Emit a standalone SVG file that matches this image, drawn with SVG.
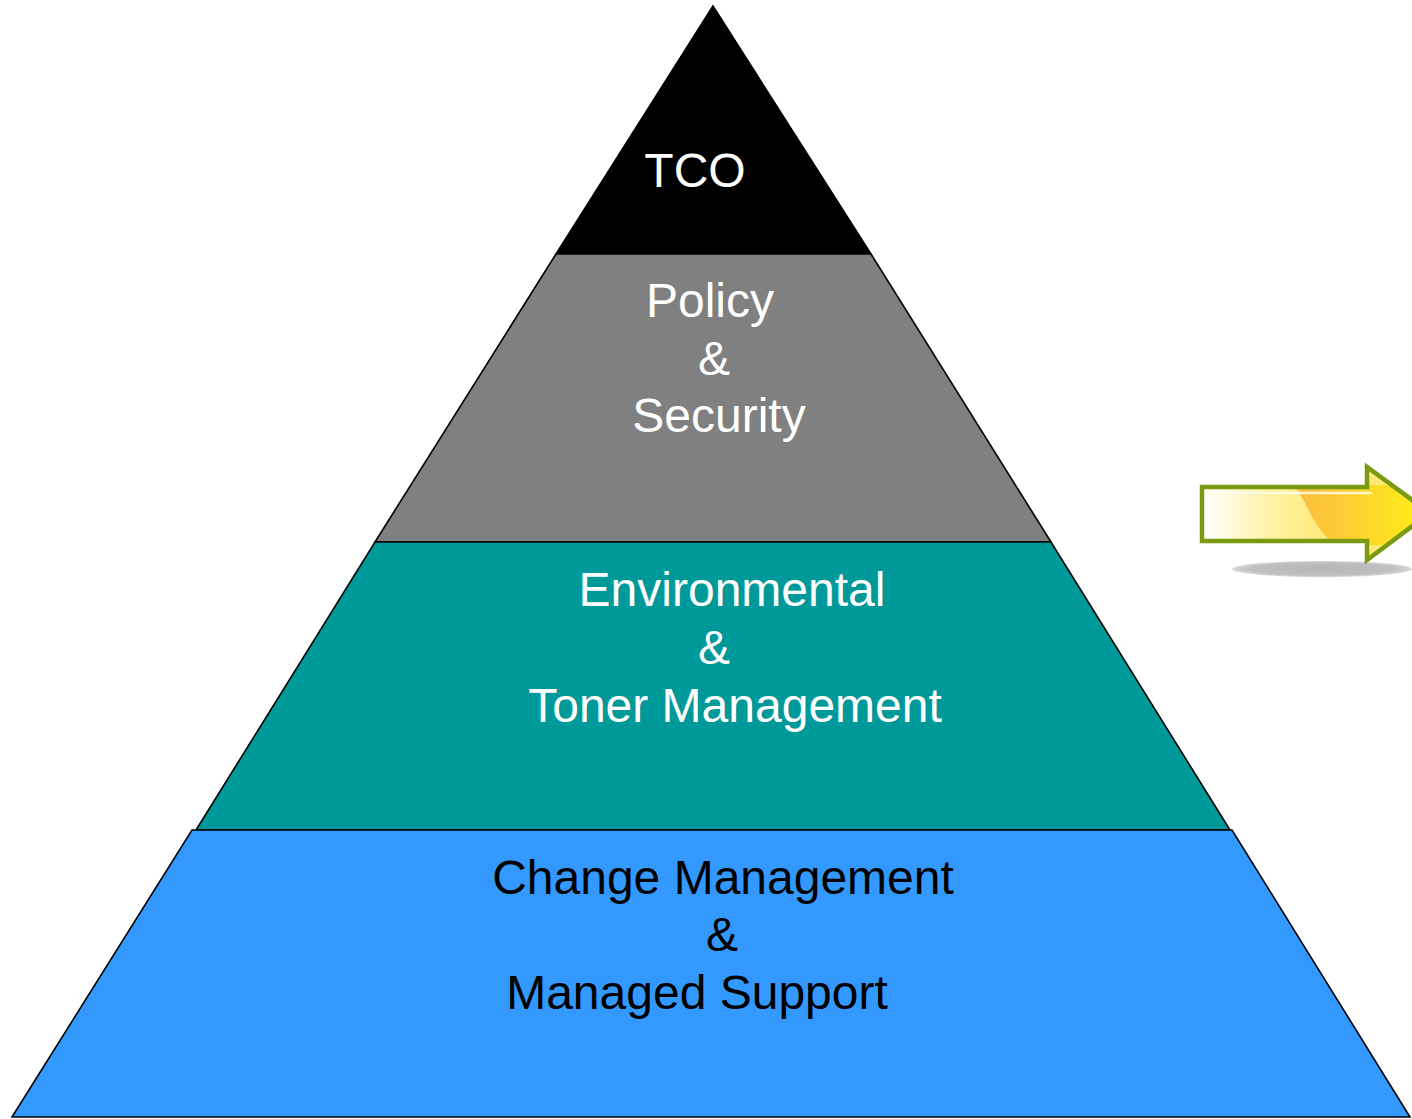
<svg xmlns="http://www.w3.org/2000/svg" width="1412" height="1119" viewBox="0 0 1412 1119">
<style>
.tier{stroke:#000;stroke-width:1.6;stroke-linejoin:miter}
.lbl{font-family:"Liberation Sans",Arial,sans-serif;font-size:48px;text-anchor:middle}
.w{fill:#fff}
.k{fill:#000}
</style>
<defs>
<linearGradient id="ag" x1="1203" y1="0" x2="1330" y2="0" gradientUnits="userSpaceOnUse">
<stop offset="0" stop-color="#ffffff"/>
<stop offset="0.5" stop-color="#fff3a8"/>
<stop offset="1" stop-color="#fde878"/>
</linearGradient>
<linearGradient id="og" x1="1295" y1="0" x2="1412" y2="0" gradientUnits="userSpaceOnUse">
<stop offset="0" stop-color="#fbbb40"/>
<stop offset="0.5" stop-color="#fcd230"/>
<stop offset="1" stop-color="#ffe81a"/>
</linearGradient>
<radialGradient id="sh" cx="0.5" cy="0.5" r="0.5">
<stop offset="0" stop-color="#b5b5b5"/>
<stop offset="0.8" stop-color="#c0c0c0"/>
<stop offset="1" stop-color="#d8d8d8"/>
</radialGradient>
<clipPath id="ac">
<polygon points="1202,487 1367,487 1367,467 1430,513 1367,560 1367,541 1202,541"/>
</clipPath>
</defs>
<rect width="1412" height="1119" fill="#fff"/>
<g id="tier-tco">
<polygon class="tier" fill="#000" points="713,6 556,254 871,254"/>
<text class="lbl w" x="695" y="187">TCO</text>
</g>
<g id="tier-policy">
<polygon class="tier" fill="#808080" points="556,254 871,254 1051,542 375,542"/>
<text class="lbl w" x="710" y="317">Policy</text>
<text class="lbl w" x="714" y="375">&amp;</text>
<text class="lbl w" x="719" y="432">Security</text>
</g>
<g id="tier-environmental">
<polygon class="tier" fill="#009999" points="375,542 1051,542 1230,830 196,830"/>
<text class="lbl w" x="732" y="606">Environmental</text>
<text class="lbl w" x="714" y="664">&amp;</text>
<text class="lbl w" x="735" y="722">Toner Management</text>
</g>
<g id="tier-change">
<polygon class="tier" fill="#3399ff" points="192,830 1232,830 1410,1117 12,1117"/>
<text class="lbl k" x="723" y="894">Change Management</text>
<text class="lbl k" x="722" y="951">&amp;</text>
<text class="lbl k" x="697" y="1009">Managed Support</text>
</g>
<g id="arrow">
<ellipse cx="1322" cy="569" rx="90" ry="8" fill="url(#sh)"/>
<g clip-path="url(#ac)">
<rect x="1200" y="460" width="240" height="110" fill="url(#ag)"/>
<path d="M1293,485 C1305,495 1310,525 1335,545 L1440,545 L1440,485 Z" fill="url(#og)"/>
<line x1="1206" y1="493" x2="1372" y2="493" stroke="#fffce8" stroke-width="2.5" opacity="0.85"/>
</g>
<polygon points="1202,487 1367,487 1367,467 1430,513 1367,560 1367,541 1202,541" fill="none" stroke="#7a9a10" stroke-width="4.5" stroke-linejoin="miter"/>
</g>
<g id="connectors"></g>
</svg>
